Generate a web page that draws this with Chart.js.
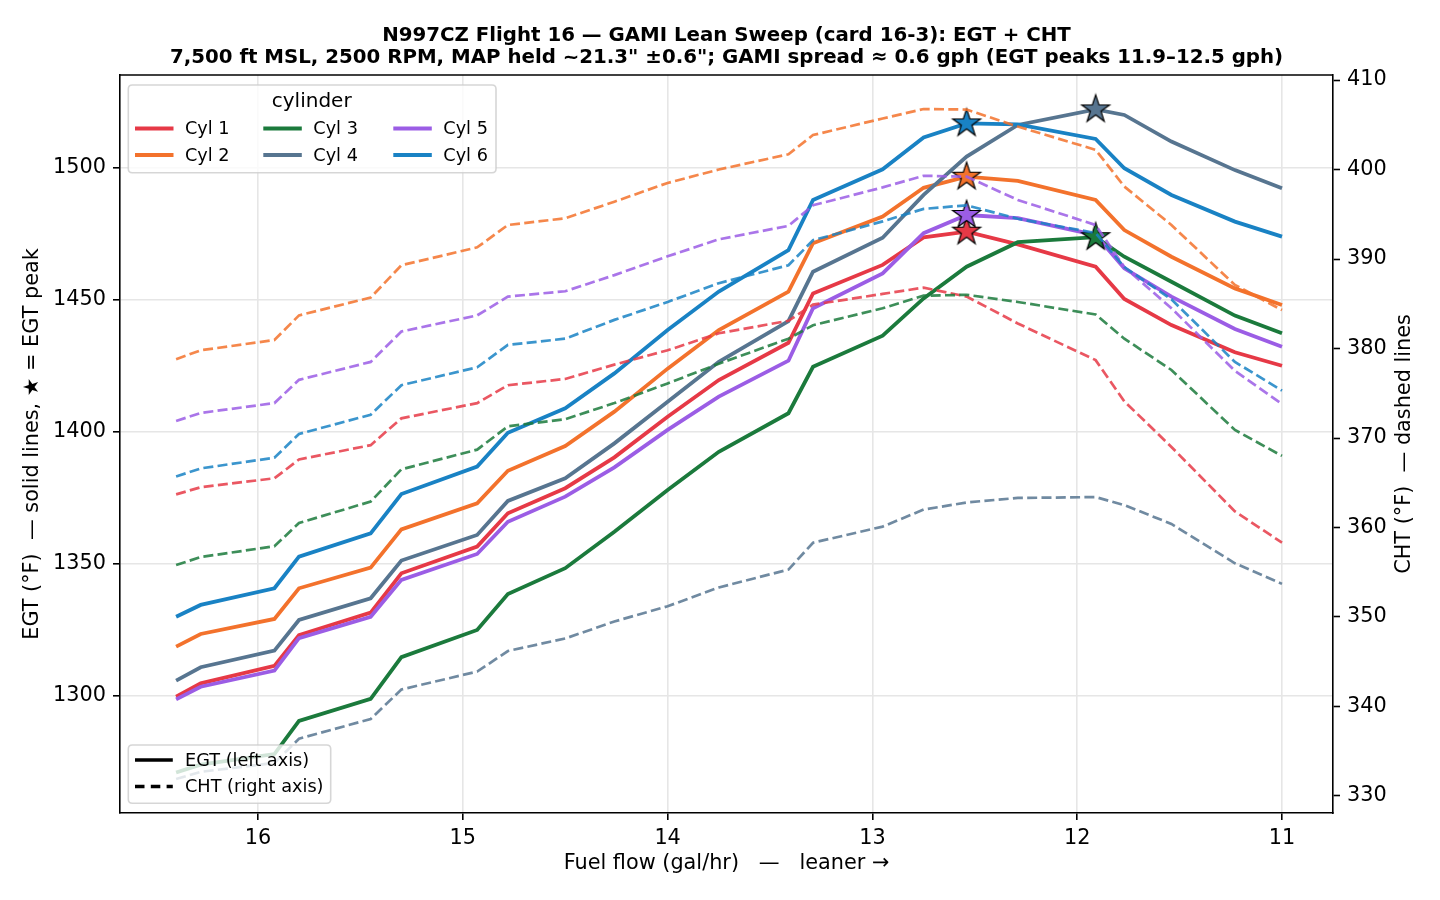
<!DOCTYPE html>
<html><head><meta charset="utf-8">
<script src="https://cdn.jsdelivr.net/npm/chart.js@4.4.1/dist/chart.umd.min.js"></script>
<style>html,body{margin:0;padding:0;background:#fff}#c{display:block}</style>
</head><body>
<canvas id="c" width="1440" height="900" style="width:1440px;height:900px"></canvas>
<script>
// ---------------- data ----------------
const titleLines = [
  'N997CZ Flight 16 \u2014 GAMI Lean Sweep (card 16-3): EGT + CHT',
  '7,500 ft MSL, 2500 RPM, MAP held ~21.3" \u00b10.6"; GAMI spread \u2248 0.6 gph (EGT peaks 11.9\u201312.5 gph)'
];
const cylNames = ['Cyl 1','Cyl 2','Cyl 3','Cyl 4','Cyl 5','Cyl 6'];
const cylColors = ['#e63946','#f3722c','#1b7a3c','#577590','#9b5de5','#1982c4'];

const fuelFlow = [16.4,16.28,15.92,15.8,15.45,15.3,14.93,14.78,14.5,14.26,14.0,13.75,13.41,13.29,12.95,12.75,12.54,12.29,11.91,11.77,11.54,11.23,11.0];

const egtCyl1 = [1299.7,1304.8,1311.4,1323.1,1331.6,1346.5,1356.6,1369.2,1378.7,1390.4,1405.8,1419.7,1433.8,1452.5,1463.3,1473.7,1475.9,1471.1,1462.6,1450.4,1440.5,1430.2,1425.1];
const egtCyl2 = [1318.7,1323.5,1329.2,1340.8,1348.6,1363.1,1373.0,1385.3,1394.7,1407.7,1424.0,1438.6,1453.2,1471.5,1481.6,1492.5,1496.7,1495.1,1487.9,1476.5,1466.4,1454.4,1448.1];
const egtCyl3 = [1271.0,1274.0,1278.0,1290.6,1298.9,1314.7,1325.0,1338.6,1348.4,1362.2,1378.0,1392.5,1407.1,1424.7,1436.5,1450.6,1462.6,1471.9,1473.8,1466.4,1456.9,1444.1,1437.4];
const egtCyl4 = [1305.8,1310.9,1317.2,1328.8,1337.0,1351.3,1361.0,1373.9,1382.5,1395.7,1411.5,1426.6,1442.0,1460.7,1473.6,1489.8,1504.3,1516.3,1522.2,1520.1,1510.0,1499.2,1492.3];
const egtCyl5 = [1298.7,1303.5,1309.6,1321.9,1330.0,1344.0,1353.8,1366.0,1375.5,1386.6,1400.8,1413.4,1427.0,1446.9,1460.1,1475.3,1482.2,1481.0,1474.6,1462.0,1451.3,1439.0,1432.3];
const egtCyl6 = [1330.0,1334.5,1340.8,1352.8,1361.6,1376.5,1386.9,1399.7,1409.0,1422.2,1438.6,1453.2,1468.9,1487.9,1499.5,1511.6,1516.9,1516.5,1511.0,1499.9,1489.8,1479.7,1474.0];

const chtCyl1 = [363.7,364.5,365.5,367.6,369.2,372.2,373.9,375.9,376.6,378.2,379.8,381.7,383.1,384.9,386.1,386.8,385.8,382.8,378.7,374.1,369.0,361.8,358.3];
const chtCyl2 = [378.8,379.8,380.95,383.7,385.7,389.3,391.3,393.8,394.55,396.4,398.5,400.0,401.7,403.85,405.7,406.76,406.7,404.8,402.2,398.1,393.8,387.1,384.3];
const chtCyl3 = [355.8,356.7,357.9,360.5,362.9,366.5,368.7,371.3,372.1,373.9,376.1,378.3,381.1,382.6,384.5,385.9,386.0,385.2,383.8,381.1,377.6,370.9,368.0];
const chtCyl4 = [331.9,332.7,333.7,336.4,338.6,341.9,343.9,346.2,347.6,349.5,351.2,353.3,355.3,358.3,360.1,362.0,362.8,363.3,363.4,362.5,360.4,356.0,353.7];
const chtCyl5 = [371.9,372.8,373.9,376.5,378.5,381.9,383.7,385.8,386.4,388.2,390.3,392.2,393.7,396.0,398.0,399.3,399.2,396.6,393.8,389.1,384.5,377.5,373.8];
const chtCyl6 = [365.7,366.6,367.8,370.45,372.6,375.9,377.9,380.4,381.1,383.2,385.2,387.3,389.3,392.1,394.2,395.6,396.0,394.5,392.9,389.1,385.5,378.5,375.3];

const xTicks = [11,12,13,14,15,16];
const egtTicks = [1300,1350,1400,1450,1500];
const chtTicks = [330,340,350,360,370,380,390,400,410];

const xLabel = 'Fuel flow (gal/hr)   \u2014   leaner \u2192';
const yLabel = 'EGT (\u00b0F)  \u2014 solid lines, \u2605 = EGT peak';
const y2Label = 'CHT (\u00b0F)  \u2014 dashed lines';
const legendTitle = 'cylinder';
const styleLegend = ['EGT (left axis)','CHT (right axis)'];

// ---------------- helpers ----------------
const egtSeries = [egtCyl1,egtCyl2,egtCyl3,egtCyl4,egtCyl5,egtCyl6];
const chtSeries = [chtCyl1,chtCyl2,chtCyl3,chtCyl4,chtCyl5,chtCyl6];
const FONT = "'DejaVu Sans', 'Noto Sans', sans-serif";
Chart.defaults.font.family = FONT;
Chart.defaults.color = '#000';

function hexA(hex, a){
  const n = parseInt(hex.slice(1),16);
  return `rgba(${(n>>16)&255},${(n>>8)&255},${n&255},${a})`;
}
function starImage(color){
  const s = 34, c = document.createElement('canvas');
  c.width = s; c.height = s;
  const g = c.getContext('2d');
  const R = 14.6, r = R*0.381966;
  g.beginPath();
  for (let k=0;k<10;k++){
    const a = -Math.PI/2 + k*Math.PI/5, rad = (k%2)? r : R;
    g.lineTo(s/2 + rad*Math.cos(a), s/2 + rad*Math.sin(a));
  }
  g.closePath();
  g.fillStyle = color; g.fill();
  g.lineWidth = 1.2; g.strokeStyle = '#000'; g.lineJoin='miter'; g.stroke();
  return c;
}

const datasets = [];
egtSeries.forEach((arr,i)=>{
  datasets.push({
    label: cylNames[i]+' EGT', yAxisID:'y',
    data: fuelFlow.map((f,k)=>({x:f, y:arr[k]})),
    borderColor: cylColors[i], borderWidth: 3.8, pointRadius: 0, tension: 0, fill:false,
    order: 30 - i
  });
});
egtSeries.forEach((arr,i)=>{
  const k = arr.indexOf(Math.max(...arr));
  datasets.push({
    label: cylNames[i]+' peak', yAxisID:'y',
    data: [{x: fuelFlow[k], y: arr[k]}],
    showLine:false, pointStyle: starImage(cylColors[i]), pointRadius: 14, pointHoverRadius: 14,
    order: 20 - i
  });
});
chtSeries.forEach((arr,i)=>{
  datasets.push({
    label: cylNames[i]+' CHT', yAxisID:'y2',
    data: fuelFlow.map((f,k)=>({x:f, y:arr[k]})),
    borderColor: hexA(cylColors[i],0.85), borderWidth: 2.7, borderDash:[10,4.3],
    pointRadius: 0, tension: 0, fill:false,
    order: 10 - i
  });
});

const TICKFONT = {size: 20.8, family: FONT};
const GRID = '#e6e6e6';

const overlay = {
  id: 'overlay',
  afterDatasetsDraw(chart){
    const {ctx, chartArea:a} = chart;
    ctx.save();
    ctx.strokeStyle = '#000'; ctx.lineWidth = 1.6;
    ctx.beginPath(); ctx.moveTo(a.left, a.top); ctx.lineTo(a.right, a.top); ctx.stroke();
    ctx.restore();
  },
  afterDraw(chart){
    const {ctx, chartArea:a} = chart;
    ctx.save();
    function box(x,y,w,h){
      const r = 4;
      ctx.beginPath();
      ctx.moveTo(x+r,y); ctx.lineTo(x+w-r,y); ctx.quadraticCurveTo(x+w,y,x+w,y+r);
      ctx.lineTo(x+w,y+h-r); ctx.quadraticCurveTo(x+w,y+h,x+w-r,y+h);
      ctx.lineTo(x+r,y+h); ctx.quadraticCurveTo(x,y+h,x,y+h-r);
      ctx.lineTo(x,y+r); ctx.quadraticCurveTo(x,y,x+r,y); ctx.closePath();
      ctx.fillStyle = 'rgba(255,255,255,0.8)'; ctx.fill();
      ctx.strokeStyle = 'rgba(204,204,204,0.8)'; ctx.lineWidth = 1.6; ctx.stroke();
    }
    // legend 1 (cylinders)
    const lx = a.left + 8.3, ly = a.top + 10;
    box(lx, ly, 367.7, 87.7);
    ctx.fillStyle = '#000'; ctx.textBaseline = 'middle';
    ctx.font = `20px ${FONT}`; ctx.textAlign = 'center';
    ctx.fillText(legendTitle, lx + 183.4, ly + 17);
    ctx.font = `17.7px ${FONT}`; ctx.textAlign = 'left';
    const colOff = [6.7, 135, 265];
    const rowOff = [43.5, 70];
    cylNames.forEach((n,i)=>{
      const cx = lx + colOff[Math.floor(i/2)], cy = ly + rowOff[i%2];
      ctx.strokeStyle = cylColors[i]; ctx.lineWidth = 4; ctx.setLineDash([]);
      ctx.beginPath(); ctx.moveTo(cx, cy); ctx.lineTo(cx+38.5, cy); ctx.stroke();
      ctx.fillStyle = '#000'; ctx.fillText(n, cx + 50, cy + 1);
    });
    // legend 2 (line styles)
    const bx = a.left + 8.3, by = a.bottom - 68;
    box(bx, by, 202.4, 58.3);
    ctx.font = `17.7px ${FONT}`; ctx.textAlign='left'; ctx.fillStyle='#000';
    [0,1].forEach(j=>{
      const cy = by + 15 + j*26.5;
      ctx.strokeStyle = '#000'; ctx.lineWidth = 3.3;
      ctx.setLineDash(j ? [9.5,6.3] : []);
      ctx.beginPath(); ctx.moveTo(bx+6.7, cy); ctx.lineTo(bx+44.5, cy); ctx.stroke();
      ctx.setLineDash([]);
      ctx.fillText(styleLegend[j], bx + 56.7, cy + 1);
    });
    // right axis title, reading bottom-to-top
    ctx.translate(1405, (a.top + a.bottom)/2);
    ctx.rotate(-Math.PI/2);
    ctx.font = `20.8px ${FONT}`; ctx.textAlign='center'; ctx.textBaseline='middle';
    ctx.fillText(y2Label, 0, 0);
    ctx.restore();
  }
};

new Chart(document.getElementById('c'), {
  type: 'line',
  data: { datasets },
  options: {
    responsive: false, animation: false, devicePixelRatio: 1,
    layout: { padding: 0 },
    plugins: {
      legend: { display: false },
      tooltip: { enabled: false },
      title: {
        display: true, fullSize: false, text: titleLines, color: '#000',
        font: { size: 19.8, weight: 'bold', family: FONT, lineHeight: 22/19.8 },
        padding: { top: 25, bottom: 6 }
      }
    },
    scales: {
      x: {
        type: 'linear', position: 'bottom', reverse: true, min: 10.751, max: 16.674,
        afterBuildTicks: s => { s.ticks = xTicks.map(v => ({value: v})); },
        afterFit: s => { s.height = 87; },
        ticks: { font: TICKFONT, color: '#000', padding: 6, maxRotation: 0, autoSkip: false, callback: v => String(v) },
        grid: { color: GRID, lineWidth: 1.6, tickLength: 7, tickColor: '#000', tickWidth: 1.6 },
        border: { display: true, color: '#000', width: 1.6 },
        title: { display: true, text: xLabel, color: '#000', font: {size: 20.8, family: FONT}, padding: {top: 0, bottom: 23.5} }
      },
      y: {
        type: 'linear', position: 'left', min: 1255.68, max: 1535.23,
        afterBuildTicks: s => { s.ticks = egtTicks.map(v => ({value: v})); },
        afterFit: s => { s.width = 120; },
        ticks: { font: TICKFONT, color: '#000', padding: 7, autoSkip: false, callback: v => String(v) },
        grid: { color: GRID, lineWidth: 1.6, tickLength: 7, tickColor: '#000', tickWidth: 1.6 },
        border: { display: true, color: '#000', width: 1.6 },
        title: { display: true, text: yLabel, color: '#000', font: {size: 20.8, family: FONT}, padding: {top: 20.5, bottom: 0} }
      },
      y2: {
        type: 'linear', position: 'right', min: 328.1, max: 410.56,
        afterBuildTicks: s => { s.ticks = chtTicks.map(v => ({value: v})); },
        afterFit: s => { s.width = 107; },
        ticks: { font: TICKFONT, color: '#000', padding: 7, autoSkip: false, callback: v => String(v) },
        grid: { drawOnChartArea: false, tickLength: 7, tickColor: '#000', tickWidth: 1.6 },
        border: { display: true, color: '#000', width: 1.6 }
      }
    }
  },
  plugins: [overlay]
});
</script>
</body></html>
